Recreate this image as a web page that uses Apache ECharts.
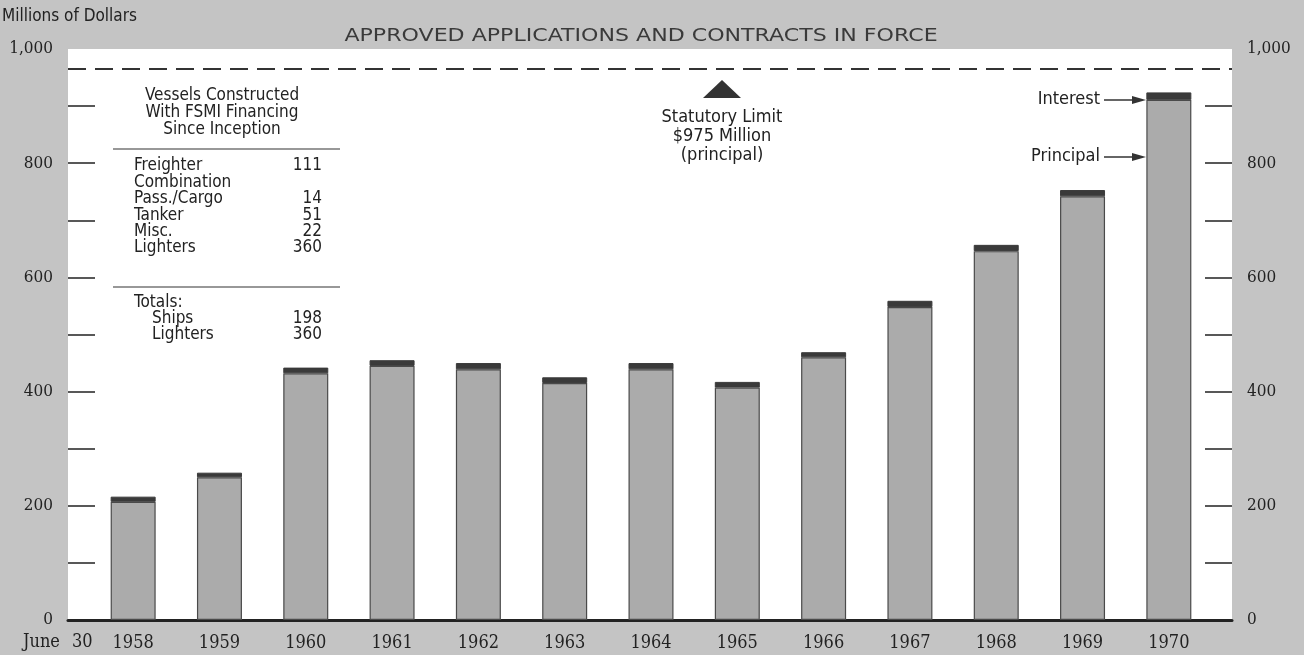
<!DOCTYPE html>
<html>
<head>
<meta charset="utf-8">
<title>FSMI Approved Applications and Contracts in Force</title>
<script src="https://cdn.jsdelivr.net/npm/echarts@6/dist/echarts.min.js"></script>
<style>
html, body { margin: 0; padding: 0; background: #c4c4c4; }
#chart { width: 1304px; height: 655px; }
</style>
</head>
<body>
<div id="chart"></div>
<script>
// values (millions of dollars)
const years = ['1958', '1959', '1960', '1961', '1962', '1963', '1964', '1965', '1966', '1967', '1968', '1969', '1970']
const principal = [207, 250, 432, 445, 439, 415, 439, 407, 460, 548, 646, 742, 911]
const interest = [9, 8, 10, 10, 11, 10, 11, 10, 9, 11, 11, 11, 13]
const yMax = 1000
const labelValues = [0, 200, 400, 600, 800, 1000]
const tickValues = [100, 200, 300, 400, 500, 600, 700, 800, 900]
// the dashed limit line sits a little below 975 on the printed scale
const limitLine = 965

const vesselRows = [
  ['Freighter', '111'],
  ['Combination', ''],
  ['Pass./Cargo', '14'],
  ['Tanker', '51'],
  ['Misc.', '22'],
  ['Lighters', '360'],
]
const totalRows = [
  ['Ships', '198'],
  ['Lighters', '360'],
]

const SANS = "'Liberation Sans Narrow', 'DejaVu Sans Condensed', 'DejaVu Sans', sans-serif"
const SERIF = "'DejaVu Serif Condensed', 'DejaVu Serif', 'Liberation Serif', serif"
const INK = '#222'

const chart = echarts.init(document.getElementById('chart'))

const tickLabel = (v) => (v === 1000 ? '1,000' : String(v))

const txt = (text, x, y, size, align, font) => ({
  type: 'text',
  x: x,
  y: y,
  silent: true,
  style: {
    text: text,
    fill: INK,
    font: size + 'px ' + (font || SANS),
    align: align || 'left',
    verticalAlign: 'middle',
  },
})

// inset table of vessels
const graphics = []
graphics.push(txt('Vessels Constructed', 222, 96, 17, 'center'))
graphics.push(txt('With FSMI Financing', 222, 113, 17, 'center'))
graphics.push(txt('Since Inception', 222, 130, 17, 'center'))
graphics.push({ type: 'line', silent: true, shape: { x1: 113, y1: 149, x2: 340, y2: 149 }, style: { stroke: '#333', lineWidth: 1.2 } })
vesselRows.forEach((r, i) => {
  const y = 166 + i * 16.4
  graphics.push(txt(r[0], 134, y, 17))
  if (r[1]) graphics.push(txt(r[1], 322, y, 17, 'right'))
})
graphics.push({ type: 'line', silent: true, shape: { x1: 113, y1: 287, x2: 340, y2: 287 }, style: { stroke: '#333', lineWidth: 1.2 } })
graphics.push(txt('Totals:', 134, 303, 17))
totalRows.forEach((r, i) => {
  const y = 319 + i * 16
  graphics.push(txt(r[0], 152, y, 17))
  graphics.push(txt(r[1], 322, y, 17, 'right'))
})

// statutory limit note
graphics.push({ type: 'polygon', silent: true, shape: { points: [[703, 98], [741, 98], [722, 80]] }, style: { fill: '#333' } })
graphics.push(txt('Statutory Limit', 722, 117, 18, 'center'))
graphics.push(txt('$975 Million', 722, 136, 18, 'center'))
graphics.push(txt('(principal)', 722, 155, 18, 'center'))

// interest / principal pointers
const pointer = (label, y) => {
  graphics.push(txt(label, 1100, y, 18, 'right'))
  graphics.push({ type: 'line', silent: true, shape: { x1: 1104, y1: y + 1, x2: 1134, y2: y + 1 }, style: { stroke: '#333', lineWidth: 1.5 } })
  graphics.push({ type: 'polygon', silent: true, shape: { points: [[1132, y - 3], [1146, y + 1], [1132, y + 5]] }, style: { fill: '#333' } })
}
pointer('Interest', 99)
pointer('Principal', 156)

// titles around the frame
graphics.push(txt('Millions of Dollars', 2, 17, 17, 'left'))
const title = txt('APPROVED APPLICATIONS AND CONTRACTS IN FORCE', 641, 37, 17, 'center', "'DejaVu Sans', sans-serif")
title.scaleX = 1.3
title.style.fill = '#3a3a3a'
graphics.push(title)
graphics.push(txt('June', 23, 642, 18, 'left', SERIF))
graphics.push(txt('30', 72, 642, 18, 'left', SERIF))

const valueAxis = (gridIndex, position, show) => ({
  type: 'value',
  gridIndex: gridIndex,
  position: position,
  min: 0,
  max: yMax,
  interval: 100,
  show: show,
  splitLine: { show: false },
  axisLine: { show: false },
  axisTick: {
    show: true,
    inside: true,
    length: 27,
    customValues: tickValues,
    lineStyle: { color: INK, width: 1.5 },
  },
  axisLabel: {
    customValues: labelValues,
    formatter: tickLabel,
    margin: 15,
    color: INK,
    fontSize: 17,
    fontFamily: SERIF,
  },
})

const option = {
  backgroundColor: '#c4c4c4',
  animation: false,
  grid: [
    { left: 68, right: 72, top: 49, bottom: 35, show: true, backgroundColor: '#fff', borderWidth: 0 },
    { left: 90, right: 92, top: 49, bottom: 35 },
  ],
  xAxis: [
    {
      type: 'value',
      gridIndex: 0,
      min: 0,
      max: 1,
      splitLine: { show: false },
      axisTick: { show: false },
      axisLabel: { show: false },
      axisLine: { show: true, onZero: false, lineStyle: { color: INK, width: 3 } },
    },
    {
      type: 'category',
      gridIndex: 1,
      data: years,
      axisLine: { show: false },
      axisTick: { show: false },
      axisLabel: { color: INK, fontSize: 18, fontFamily: SERIF, margin: 14 },
    },
  ],
  yAxis: [
    valueAxis(0, 'left', true),
    valueAxis(0, 'right', true),
    valueAxis(1, 'left', false),
  ],
  series: [
    {
      name: 'Limit',
      type: 'line',
      xAxisIndex: 0,
      yAxisIndex: 0,
      data: [[0, 0], [1, 0]],
      symbol: 'none',
      lineStyle: { width: 0 },
      silent: true,
      markLine: {
        silent: true,
        symbol: 'none',
        label: { show: false },
        lineStyle: { type: [18, 9], color: '#333', width: 2 },
        data: [{ yAxis: limitLine }],
      },
    },
    {
      name: 'Principal',
      type: 'bar',
      xAxisIndex: 1,
      yAxisIndex: 2,
      stack: 'total',
      barWidth: 45,
      data: principal,
      itemStyle: { color: '#ababab', borderColor: '#4a4a4a', borderWidth: 1.2 },
    },
    {
      name: 'Interest',
      type: 'bar',
      xAxisIndex: 1,
      yAxisIndex: 2,
      stack: 'total',
      barWidth: 45,
      data: interest,
      itemStyle: { color: '#3a3a3a', borderColor: '#3a3a3a', borderWidth: 1 },
    },
  ],
  graphic: graphics,
}

chart.setOption(option)
</script>
</body>
</html>
